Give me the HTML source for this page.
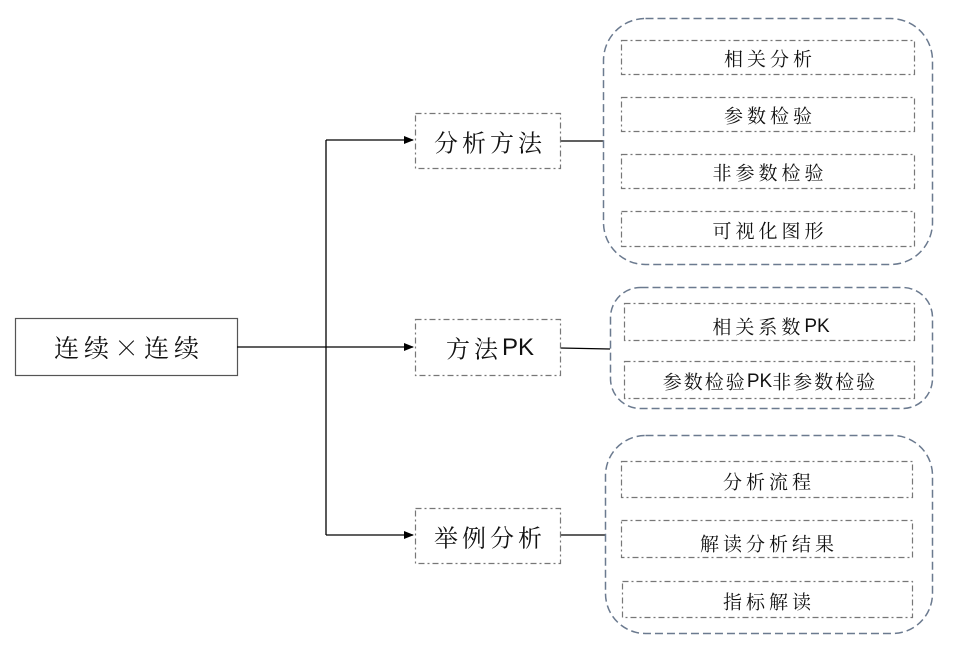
<!DOCTYPE html>
<html><head><meta charset="utf-8">
<style>
html,body{margin:0;padding:0;background:#fff;}
svg{display:block;}
text{font-family:"Noto Serif CJK SC","Noto Sans CJK SC",serif;fill:#111;text-anchor:middle;dominant-baseline:central;}
.pk{font-family:"Liberation Sans",sans-serif;letter-spacing:0;}
</style></head><body>
<svg width="957" height="647" viewBox="0 0 957 647" xmlns="http://www.w3.org/2000/svg">
<defs>
<marker id="a" markerWidth="10" markerHeight="8" refX="9" refY="4" orient="auto" markerUnits="userSpaceOnUse">
<path d="M0,0 L10,4 L0,8 z" fill="#000"/></marker>
</defs>
<rect x="15.5" y="318.5" width="222" height="57" fill="#fff" stroke="#555" stroke-width="1.2"/>
<text x="129" y="347" font-size="25" letter-spacing="5">连续×连续</text>
<g stroke="#000" stroke-width="1.3" fill="none">
<line x1="237" y1="347" x2="326" y2="347"/>
<line x1="326" y1="140" x2="326" y2="535"/>
<line x1="326" y1="140" x2="413" y2="140" marker-end="url(#a)"/>
<line x1="326" y1="347" x2="413" y2="347" marker-end="url(#a)"/>
<line x1="326" y1="535" x2="413" y2="535" marker-end="url(#a)"/>
<line x1="560" y1="141" x2="603" y2="141"/>
<line x1="560" y1="348" x2="610" y2="349"/>
<line x1="560" y1="535" x2="605" y2="535"/>
</g>
<g fill="#fff" stroke="#777" stroke-width="1.2" stroke-dasharray="6,3,2,3">
<rect x="415.5" y="113.5" width="145" height="55"/>
<rect x="415.5" y="319.5" width="145" height="56"/>
<rect x="415.5" y="508.5" width="145" height="55"/>
</g>
<text x="490" y="141" font-size="24" letter-spacing="4">分析方法</text>
<text x="490" y="347" font-size="24" letter-spacing="4">方法<tspan class="pk">PK</tspan></text>
<text x="490" y="536" font-size="24" letter-spacing="4">举例分析</text>
<g fill="none" stroke="#6b7a8f" stroke-width="1.5" stroke-dasharray="8,4">
<rect x="603.5" y="18.5" width="329" height="246" rx="42"/>
<rect x="610.5" y="287.5" width="322" height="121" rx="30"/>
<rect x="605.5" y="435.5" width="327" height="198" rx="40"/>
</g>
<g fill="none" stroke="#777" stroke-width="1.2" stroke-dasharray="6,3,2,3">
<rect x="621.5" y="40.5" width="293" height="34"/>
<rect x="621.5" y="97.5" width="293" height="34"/>
<rect x="621.5" y="154.5" width="293" height="34"/>
<rect x="621.5" y="211.5" width="293" height="35"/>
<rect x="624.5" y="303.5" width="290" height="37"/>
<rect x="624.5" y="361.5" width="290" height="37"/>
<rect x="621.5" y="461.5" width="291" height="36"/>
<rect x="621.5" y="520.5" width="291" height="37"/>
<rect x="622.5" y="581.5" width="290" height="36"/>
</g>
<g font-size="19" letter-spacing="4">
<text x="770" y="58">相关分析</text>
<text x="770" y="115">参数检验</text>
<text x="770" y="172">非参数检验</text>
<text x="770" y="230">可视化图形</text>
<text x="771" y="326">相关系数<tspan class="pk">PK</tspan></text>
<text x="770" y="381" letter-spacing="2">参数检验<tspan class="pk">PK</tspan>非参数检验</text>
<text x="769" y="481">分析流程</text>
<text x="769" y="543">解读分析结果</text>
<text x="769" y="601">指标解读</text>
</g>
</svg>
</body></html>
